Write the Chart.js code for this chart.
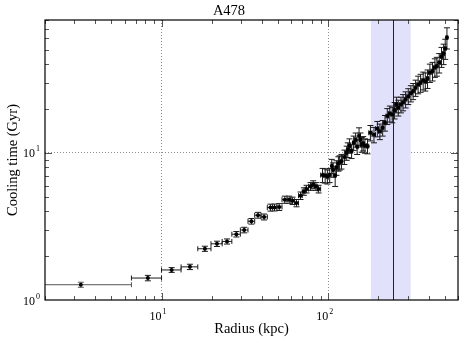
<!DOCTYPE html>
<html>
<head>
<meta charset="utf-8">
<script src="https://cdn.jsdelivr.net/npm/chart.js@4.4.0/dist/chart.umd.min.js"></script>
<style>
  html, body { margin: 0; padding: 0; background: #fff; }
</style>
</head>
<body>
<canvas id="cool-chart" width="464" height="343"></canvas>
<script>
// annulus radius (kpc)
const radius = [3.28, 8.28, 11.5, 14.8, 18.2, 21.5, 24.7, 28.1, 31.3, 34.6,
  37.9, 41.2, 45.0, 47.6, 50.8, 54.9, 58.3, 61.1, 64.5, 68.2,
  71.4, 74.1, 78.3, 81.2, 84.3, 87.5, 92.4, 95.8, 98.8, 102,
  105, 107, 110, 112, 115, 117, 120, 125, 129, 131,
  134, 138, 142, 146, 149, 153, 156, 159, 162, 166,
  172, 179, 188, 197, 204, 212, 219, 226, 234, 242,
  250, 257, 263, 273, 281, 291, 302, 313, 323, 334,
  346, 358, 371, 382, 394, 407, 422, 436, 448, 463,
  478, 492, 503, 515];

// annulus edges (kpc), one more than radius
const binEdges = [1, 6.6, 10, 13.1, 16.5, 19.8, 23.1, 26.4, 29.7, 33.0,
  36.2, 39.5, 43.1, 46.3, 49.2, 52.8, 56.6, 59.7, 62.8, 66.3,
  69.8, 72.7, 76.2, 79.7, 82.7, 85.9, 90.0, 94.1, 97.3, 100,
  104, 106, 108, 111, 114, 116, 119, 122, 127, 130,
  132, 136, 140, 144, 148, 151, 154, 157, 160, 164,
  169, 175, 183, 192, 200, 208, 215, 222, 230, 238,
  246, 253, 260, 268, 277, 286, 296, 307, 318, 328,
  340, 352, 364, 376, 388, 400, 414, 429, 442, 455,
  470, 485, 497, 509, 521];

// cooling time (Gyr)
const coolingTime = [1.27, 1.41, 1.60, 1.68, 2.23, 2.41, 2.50, 2.80, 2.99, 3.43,
  3.77, 3.67, 4.25, 4.26, 4.29, 4.81, 4.81, 4.73, 4.56, 5.12,
  5.47, 5.68, 5.92, 6.08, 5.92, 5.68, 7.06, 7.01, 6.90, 7.06,
  8.13, 7.69, 7.01, 7.94, 8.46, 8.59, 8.76, 9.39, 10.0, 10.5,
  11.2, 10.3, 11.7, 12.3, 11.0, 13.0, 12.3, 11.4, 11.6, 11.2,
  11.1, 13.7, 13.3, 14.6, 14.0, 14.8, 16.0, 17.8, 18.5, 18.2,
  19.5, 21.3, 20.3, 21.3, 22.1, 23.1, 24.3, 25.4, 26.3, 27.7,
  29.2, 30.0, 31.1, 30.6, 32.0, 35.1, 36.0, 38.1, 38.9, 41.1,
  45.1, 47.3, 51.2, 60.8];

// 1-sigma error on cooling time (Gyr)
const coolingErr = [0.05, 0.06, 0.06, 0.07, 0.09, 0.10, 0.10, 0.12, 0.13, 0.15,
  0.17, 0.17, 0.23, 0.23, 0.23, 0.27, 0.27, 0.27, 0.26, 0.30,
  0.32, 0.34, 0.36, 0.38, 0.36, 0.34, 0.78, 0.78, 0.76, 0.78,
  0.90, 0.86, 1.1, 0.90, 0.95, 0.96, 1.0, 1.05, 1.1, 1.2,
  1.25, 1.15, 1.3, 1.35, 1.25, 1.8, 1.35, 1.3, 1.3, 1.25,
  1.25, 1.65, 1.6, 1.75, 1.7, 1.8, 1.95, 2.2, 2.3, 2.2,
  2.5, 2.6, 2.5, 2.6, 2.8, 2.9, 3.0, 3.2, 3.3, 3.5,
  4.0, 4.2, 4.3, 4.3, 4.6, 5.0, 5.2, 5.5, 5.7, 6.2,
  7.0, 7.5, 8.0, 10.0];

const shadedRange = [180, 312];   // kpc
const markerRadius = 245;          // kpc, blue line
const xDecades = [10, 100];
const yDecades = [1, 10];
const xRange = [2, 600];
const yRange = [1, 80];

const serif = "'Liberation Serif', 'Times New Roman', serif";

function drawPow(ctx, exp, x, y, mode) {
  ctx.font = '12px ' + serif;
  const w10 = ctx.measureText('10').width;
  ctx.font = '8px ' + serif;
  const we = ctx.measureText(exp).width;
  let x0;
  if (mode === 'x') x0 = x - w10;
  else x0 = x - w10 - we - 1;
  ctx.fillStyle = '#000';
  ctx.textBaseline = 'alphabetic';
  ctx.textAlign = 'left';
  ctx.font = '12px ' + serif;
  ctx.fillText('10', x0, y + 4.5);
  ctx.font = '8px ' + serif;
  ctx.fillText(exp, x0 + w10 + 1, y - 1.5);
}

const decor = {
  id: 'decor',
  beforeDatasetsDraw(chart) {
    const { ctx, chartArea: a, scales: { x, y } } = chart;
    ctx.save();
    ctx.beginPath();
    ctx.rect(a.left, a.top, a.right - a.left, a.bottom - a.top);
    ctx.clip();

    // shaded radius range and marker line
    const b0 = x.getPixelForValue(shadedRange[0]);
    const b1 = x.getPixelForValue(shadedRange[1]);
    ctx.fillStyle = 'rgb(225,225,251)';
    ctx.fillRect(b0, a.top, b1 - b0, a.bottom - a.top);
    const mx = Math.round(x.getPixelForValue(markerRadius)) + 0.5;
    ctx.strokeStyle = 'rgb(10,10,230)';
    ctx.lineWidth = 1;
    ctx.beginPath();
    ctx.moveTo(mx, a.top);
    ctx.lineTo(mx, a.bottom);
    ctx.stroke();

    // error bars
    ctx.lineWidth = 1;
    for (let i = 0; i < radius.length; i++) {
      const px = x.getPixelForValue(radius[i]);
      const py = y.getPixelForValue(coolingTime[i]);
      const xl = x.getPixelForValue(binEdges[i]);
      const xr = x.getPixelForValue(binEdges[i + 1]);
      const yt = y.getPixelForValue(coolingTime[i] + coolingErr[i]);
      const yb = y.getPixelForValue(coolingTime[i] - coolingErr[i]);
      ctx.strokeStyle = i === 0 ? '#555' : '#1a1a1a';
      ctx.beginPath();
      ctx.moveTo(xl, py); ctx.lineTo(xr, py);
      ctx.moveTo(xl, py - 2.5); ctx.lineTo(xl, py + 2.5);
      ctx.moveTo(xr, py - 2.5); ctx.lineTo(xr, py + 2.5);
      ctx.moveTo(px, yt); ctx.lineTo(px, yb);
      ctx.moveTo(px - 3, yt); ctx.lineTo(px + 3, yt);
      ctx.moveTo(px - 3, yb); ctx.lineTo(px + 3, yb);
      ctx.stroke();
    }
    ctx.restore();
  },
  afterDraw(chart) {
    const { ctx, chartArea: a, scales: { x, y } } = chart;
    ctx.save();
    // inward ticks on all four sides
    ctx.strokeStyle = '#555';
    ctx.lineWidth = 1;
    ctx.beginPath();
    for (let d = 1; d <= 100; d *= 10) {
      for (let m = 1; m <= 9; m++) {
        const v = m * d;
        if (v < xRange[0] || v > xRange[1]) continue;
        const len = m === 1 ? 7 : 4;
        const px = Math.round(x.getPixelForValue(v)) + 0.5;
        ctx.moveTo(px, a.bottom); ctx.lineTo(px, a.bottom - len);
        ctx.moveTo(px, a.top); ctx.lineTo(px, a.top + len);
      }
    }
    for (let d = 1; d <= 10; d *= 10) {
      for (let m = 1; m <= 9; m++) {
        const v = m * d;
        if (v <= yRange[0] || v > yRange[1]) continue;
        const len = m === 1 ? 7 : 4;
        const py = Math.round(y.getPixelForValue(v)) + 0.5;
        ctx.moveTo(a.left, py); ctx.lineTo(a.left + len, py);
        ctx.moveTo(a.right, py); ctx.lineTo(a.right - len, py);
      }
    }
    ctx.stroke();

    // frame
    ctx.strokeStyle = '#000';
    ctx.lineWidth = 1.2;
    ctx.strokeRect(a.left, a.top, a.right - a.left, a.bottom - a.top);

    // decade labels
    xDecades.forEach(v => drawPow(ctx, String(Math.round(Math.log10(v))), x.getPixelForValue(v), a.bottom + 15, 'x'));
    yDecades.forEach(v => drawPow(ctx, String(Math.round(Math.log10(v))), 40, y.getPixelForValue(v), 'y'));
    ctx.restore();
  }
};

const ctx = document.getElementById('cool-chart').getContext('2d');
const chart = new Chart(ctx, {
  type: 'scatter',
  data: {
    datasets: [{
      data: radius.map((r, i) => ({ x: r, y: coolingTime[i] })),
      pointRadius: 2,
      pointHoverRadius: 2,
      backgroundColor: '#000',
      borderWidth: 0
    }]
  },
  options: {
    responsive: false,
    animation: false,
    devicePixelRatio: 1,
    events: [],
    layout: { padding: { left: 0, right: 6, top: 0, bottom: 0 } },
    plugins: {
      legend: { display: false },
      tooltip: { enabled: false },
      title: {
        display: true,
        text: 'A478',
        color: '#000',
        font: { family: serif, size: 14.5, weight: 'normal', lineHeight: 1 },
        padding: { top: 4, bottom: 1.5 }
      }
    },
    scales: {
      x: {
        type: 'logarithmic',
        min: xRange[0],
        max: xRange[1],
        afterBuildTicks: s => { s.ticks = xDecades.map(v => ({ value: v })); },
        afterFit: s => { s.height = 43; },
        ticks: { display: false },
        grid: { color: '#8c8c8c', drawTicks: false, lineWidth: 1 },
        border: { display: false, dash: [1, 2] },
        title: {
          display: true,
          text: 'Radius (kpc)',
          color: '#000',
          font: { family: serif, size: 14.5, lineHeight: 1 },
          padding: { top: 0, bottom: 7 }
        }
      },
      y: {
        type: 'logarithmic',
        min: yRange[0],
        max: yRange[1],
        afterBuildTicks: s => { s.ticks = yDecades.map(v => ({ value: v })); },
        afterFit: s => { s.width = 45; },
        ticks: { display: false },
        grid: {
          color: c => (c.tick && c.tick.value === 10 ? '#8c8c8c' : 'rgba(0,0,0,0)'),
          drawTicks: false,
          lineWidth: 1
        },
        border: { display: false, dash: [1, 2] },
        title: {
          display: true,
          text: 'Cooling time (Gyr)',
          color: '#000',
          font: { family: serif, size: 14.5, lineHeight: 1 },
          padding: { top: 6, bottom: 0 }
        }
      }
    }
  },
  plugins: [decor]
});
</script>
</body>
</html>
